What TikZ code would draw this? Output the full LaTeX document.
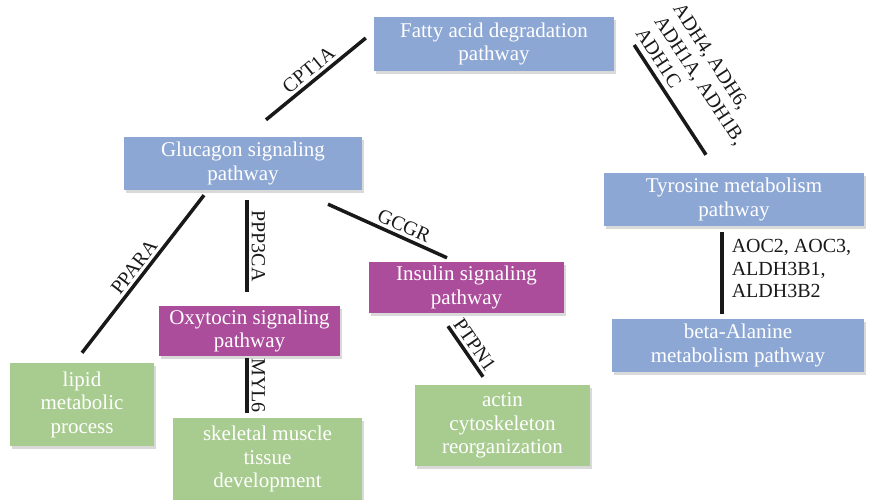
\documentclass[tikz,border=0pt]{standalone}
\usepackage{fontspec}
\setmainfont{Liberation Serif}
\usetikzlibrary{calc}
\usetikzlibrary{shadows}
\definecolor{pathblue}{RGB}{141,167,212}
\definecolor{pathpurple}{RGB}{172,77,155}
\definecolor{procgreen}{RGB}{168,204,144}

\begin{document}
\begin{tikzpicture}[x=1pt, y=-1pt,
		box/.style={fill=#1, text=white, align=center, inner sep=0pt,
			font=\fontsize{21}{23.5}\selectfont,
			drop shadow={shadow xshift=2pt, shadow yshift=-3pt, opacity=0.3}},
		link/.style={line width=3.5pt, black!90},
		gene/.style={font=\fontsize{20}{22.5}\selectfont, inner sep=3pt}]

			\useasboundingbox (0,0) rectangle (872,500);

			\node[box=pathblue, minimum width=240pt, minimum height=54pt] (fatty) at (494,44){Fatty acid degradation\\pathway};
			\node[box=pathblue, minimum width=238pt, minimum height=53pt] (glu) at (243,163.5){Glucagon signaling\\pathway};
			\node[box=pathblue, minimum width=260pt, minimum height=53pt] (tyr) at (734,199.5){Tyrosine metabolism\\pathway};
			\node[box=pathblue, minimum width=252pt, minimum height=53pt] (beta) at (738,345.5){beta-Alanine\\metabolism pathway};

			\node[box=pathpurple, minimum width=195pt, minimum height=51pt] (ins) at (466.5,287.5){Insulin signaling\\pathway};
			\node[box=pathpurple, minimum width=181pt, minimum height=50pt] (oxy) at (249.5,331){Oxytocin signaling\\pathway};

			\node[box=procgreen, minimum width=144pt, minimum height=83pt] (lipid) at (82,404.5){lipid\\metabolic\\process};
			\node[box=procgreen, minimum width=189pt, minimum height=82pt] (skel) at (267.5,459){skeletal muscle\\tissue\\development};
			\node[box=procgreen, minimum width=175pt, minimum height=81pt] (actin) at (502.5,425.5){actin\\cytoskeleton\\reorganization};

			\draw[link] ([shift={(-8,-6)}]fatty.west) -- node[gene, sloped, above]{CPT1A} ([shift={(23,-17)}]glu.north);
			\draw[link] ([shift={(20,1)}]fatty.east) -- node[gene, sloped, above, align=left, inner sep=5pt]{ADH4, ADH6,\\ADH1A, ADH1B,\\ADH1C} ([shift={(-28,-18)}]tyr.north);
			\draw[link] ([shift={(-12,6)}]tyr.south) -- node[gene, right, align=left, pos=0.45, xshift=5pt]{AOC2, AOC3,\\ALDH3B1,\\ALDH3B2} ([shift={(-16,-5)}]beta.north);

			\draw[link] ([shift={(-39,5)}]glu.south) -- node[gene, sloped, above]{PPARA} ([shift={(0,-10)}]lipid.north);
			\draw[link] ([shift={(4,10)}]glu.south) -- node[gene, sloped, above]{PPP3CA} ([shift={(-2.5,-14)}]oxy.north);
			\draw[link] ([shift={(85,14)}]glu.south) -- node[gene, sloped, above, pos=0.6]{GCGR} ([shift={(-19.5,-4)}]ins.north);

			\draw[link] ([shift={(-2.5,2)}]oxy.south) -- node[gene, sloped, above]{MYL6} ([shift={(-20.5,-5)}]skel.north);
			\draw[link] ([shift={(-18.5,13)}]ins.south) -- node[gene, sloped, above]{PTPN1} ([shift={(-19.5,-8)}]actin.north);
		\end{tikzpicture}
\end{document}
